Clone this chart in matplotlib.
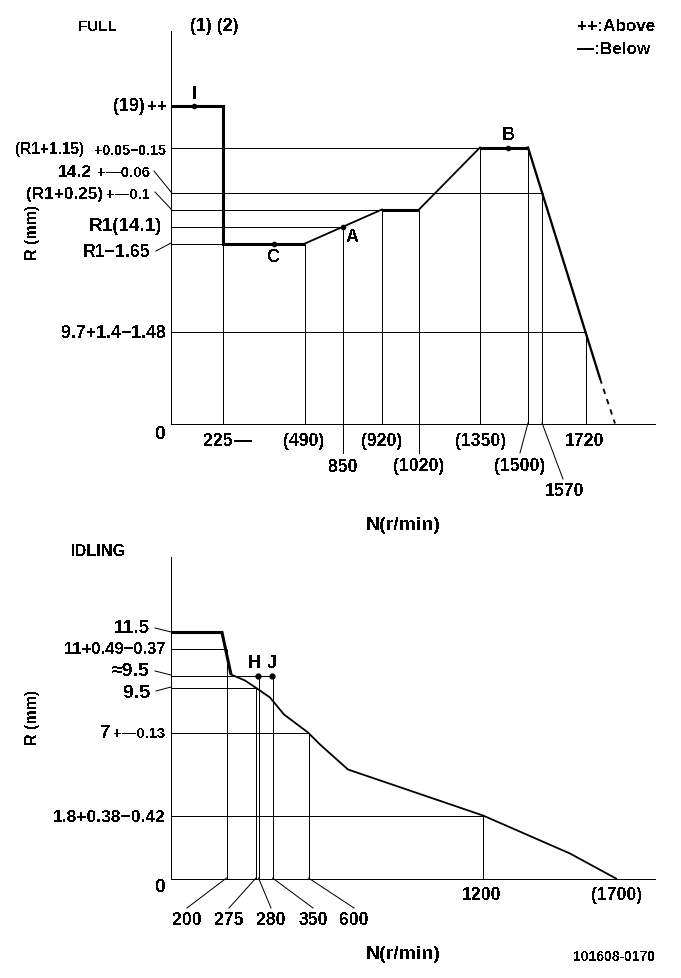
import matplotlib
matplotlib.use("Agg")
import matplotlib.pyplot as plt
from matplotlib.transforms import Affine2D

plt.rcParams['font.family'] = ['Liberation Sans', 'DejaVu Sans']
plt.rcParams['font.weight'] = 'bold'
plt.rcParams['text.antialiased'] = False

W, H = 681, 979
fig = plt.figure(figsize=(W / 100, H / 100), dpi=100, facecolor='white')
# reference-pixel coordinates for annotation text and leader lines
PX = Affine2D().scale(1, -1).translate(0, H)

# The drawing is not to scale, so values are in plotted units:
# x = distance from the R axis, y = height above the N axis.
# ---------- FULL ----------
full_thick_x = [[0, 52, 52, 134], [211, 248], [309, 357]]
full_thick_y = [[318, 318, 180, 180], [214, 214], [276, 276]]
full_thin_x = [[134, 211], [248, 309]]
full_thin_y = [[180, 214], [214, 276]]
full_fall_x = [357, 429]
full_fall_y = [276, 45]
full_dash_x = [429, 444]
full_dash_y = [45, 0]
full_hline_y = [276, 231, 214, 197, 180, 92]
full_hline_x = [309, 372, 211, 172, 52, 415]
full_vline_x = [52, 134, 172, 211, 248, 309, 357, 371, 415]
full_vline_y = [180, 180, 197, 214, 214, 276, 276, 231, 92]
full_point_x = [23, 103, 172, 337]
full_point_y = [318, 180, 197, 276]
full_points = ['I', 'C', 'A', 'B']
full_ticks = [('225', 218, 441), ('(490)', 304, 441), ('850', 343, 467), ('(920)', 382, 441),
              ('(1020)', 419, 466), ('(1350)', 481, 441), ('(1500)', 520, 466),
              ('1570', 565, 491), ('1720', 585, 441)]

# ---------- IDLING ----------
idle_thick_x = [0, 51, 60]
idle_thick_y = [246, 246, 204]
idle_curve_x = [60, 74, 86, 99, 113, 137, 149, 177, 312, 399, 445]
idle_curve_y = [204, 198, 190, 181, 164, 146, 134, 109, 63, 25, 0]
idle_hline_y = [230, 203, 191, 146, 63]
idle_hline_x = [55, 101, 85, 137, 312]
idle_vline_x = [55.5, 85, 87.5, 101.5, 137.5, 312]
idle_vline_y = [230, 191, 203, 203, 146, 63]
idle_point_x = [87, 101]
idle_point_y = [203, 203]
idle_ticks = [('200', 187, 920), ('275', 229, 920), ('280', 271, 920), ('350', 313, 920),
              ('600', 354, 920), ('1200', 482, 895), ('(1700)', 617, 895)]

LW_THIN = 0.72
LW_MID = 1.3
LW_THICK = 2.2
TICK = 12.7


def make_axes(left, right, top, bottom):
    ax = fig.add_axes([left / W, 1 - bottom / H, (right - left) / W, (bottom - top) / H])
    ax.set_xlim(0, right - left)
    ax.set_ylim(0, bottom - top)
    ax.patch.set_alpha(0)
    ax.set_xticks([])
    ax.set_yticks([])
    for side in ('top', 'right'):
        ax.spines[side].set_visible(False)
    for side in ('left', 'bottom'):
        ax.spines[side].set_linewidth(LW_THIN)
    return ax


def grid(ax, hy, hx, vx, vy):
    for y, x in zip(hy, hx):
        ax.plot([0, x], [y, y], color='k', lw=LW_THIN, solid_capstyle='butt')
    for x, y in zip(vx, vy):
        ax.plot([x, x], [0, y], color='k', lw=LW_THIN, solid_capstyle='butt')


def txt(x, y, s, size=14, ha='center', **kw):
    fig.text(x, y + 1, s, transform=PX, fontsize=size, ha=ha, va='center', color='k', **kw)


def lead(x0, y0, x1, y1, lw=0.72):
    fig.add_artist(plt.Line2D([x0, x1], [y0, y1], transform=PX, color='k', lw=lw))


# FULL panel
ax1 = make_axes(171, 655, 32, 424.5)
grid(ax1, full_hline_y, full_hline_x, full_vline_x, full_vline_y)
for xs, ys in zip(full_thick_x, full_thick_y):
    ax1.plot(xs, ys, color='k', lw=LW_THICK, solid_joinstyle='miter', solid_capstyle='butt')
for xs, ys in zip(full_thin_x, full_thin_y):
    ax1.plot(xs, ys, color='k', lw=LW_MID)
ax1.plot(full_fall_x, full_fall_y, color='k', lw=LW_THICK * 0.75)
ax1.plot(full_dash_x, full_dash_y, color='k', lw=LW_MID, dashes=(3, 3))
ax1.plot(full_point_x, full_point_y, 'o', color='k', ms=3)

txt(97, 26, 'FULL', 11)
txt(214, 26, '(1) (2)', 13)
txt(577, 26, '++:Above', 12.3, ha='left')
txt(577, 49, '—:Below', 12.3, ha='left')
txt(194, 94, 'I', 13)
txt(274, 257, 'C', 13)
txt(352, 237, 'A', 13)
txt(508, 135, 'B', 13)
txt(33, 231, 'R (mm)', 11.5, rotation=90)
txt(403, 525, 'N(r/min)', 14)
txt(161, 434, '0', 14)

txt(145, 106, '(19)', 13, ha='right')
txt(167, 106, '++', 12, ha='right')
txt(84, 149, '(R1+1.15)', 11.2, ha='right')
txt(166, 150, '+0.05−0.15', 10.2, ha='right')
txt(92, 172, '14.2', 12.5, ha='right')
txt(150, 172, '+—0.06', 10.8, ha='right')
txt(103, 194, '(R1+0.25)', 12.3, ha='right')
txt(150, 194, '+—0.1', 10.5, ha='right')
txt(162, 226, 'R1(14.1)', 13.6, ha='right')
txt(150, 252, 'R1−1.65', 12.8, ha='right')
txt(166, 333, '9.7+1.4−1.48', 12.8, ha='right')

for label, x, y in full_ticks:
    txt(x, y, label, TICK)
txt(243, 441, '—', TICK)

lead(154, 172, 171, 193)
lead(155, 193, 171, 210)
lead(156, 252, 171, 244)
lead(343, 424, 343, 454)
lead(419, 424, 419, 454)
lead(528, 424, 520, 454)
lead(542, 424, 563, 480)

# IDLING panel
ax2 = make_axes(171, 655, 558, 879.5)
grid(ax2, idle_hline_y, idle_hline_x, idle_vline_x, idle_vline_y)
ax2.plot(idle_thick_x, idle_thick_y, color='k', lw=LW_THICK, solid_joinstyle='miter', solid_capstyle='butt')
ax2.plot(idle_curve_x, idle_curve_y, color='k', lw=LW_MID)
ax2.plot(idle_point_x, idle_point_y, 'o', color='k', ms=3.5)

txt(99, 551, 'IDLING', 11.7)
txt(254, 663, 'H', 13)
txt(272, 663, 'J', 13)
txt(33, 716, 'R (mm)', 11.5, rotation=90)
txt(403, 954, 'N(r/min)', 14)
txt(161, 887, '0', 14)
txt(655, 956, '101608-0170', 10, ha='right')

txt(150, 628, '11.5', 13.7, ha='right')
txt(166, 649, '11+0.49−0.37', 12, ha='right')
txt(150, 671, '≈9.5', 14, ha='right')
txt(150, 693, '9.5', 14, ha='right')
txt(111, 733, '7', 13.5, ha='right')
txt(166, 733, '+—0.13', 10.6, ha='right')
txt(166, 817, '1.8+0.38−0.42', 12.6, ha='right')

for label, x, y in idle_ticks:
    txt(x, y, label, TICK)

lead(155, 629, 171, 633)
lead(155, 672, 171, 676)
lead(156, 692, 171, 688)
lead(226.5, 879, 187, 909)
lead(256, 879, 229, 909)
lead(258.5, 879, 271, 909)
lead(272.5, 879, 313, 909)
lead(308.5, 879, 354, 909)

fig.savefig('out.png', dpi=100, facecolor='white')
